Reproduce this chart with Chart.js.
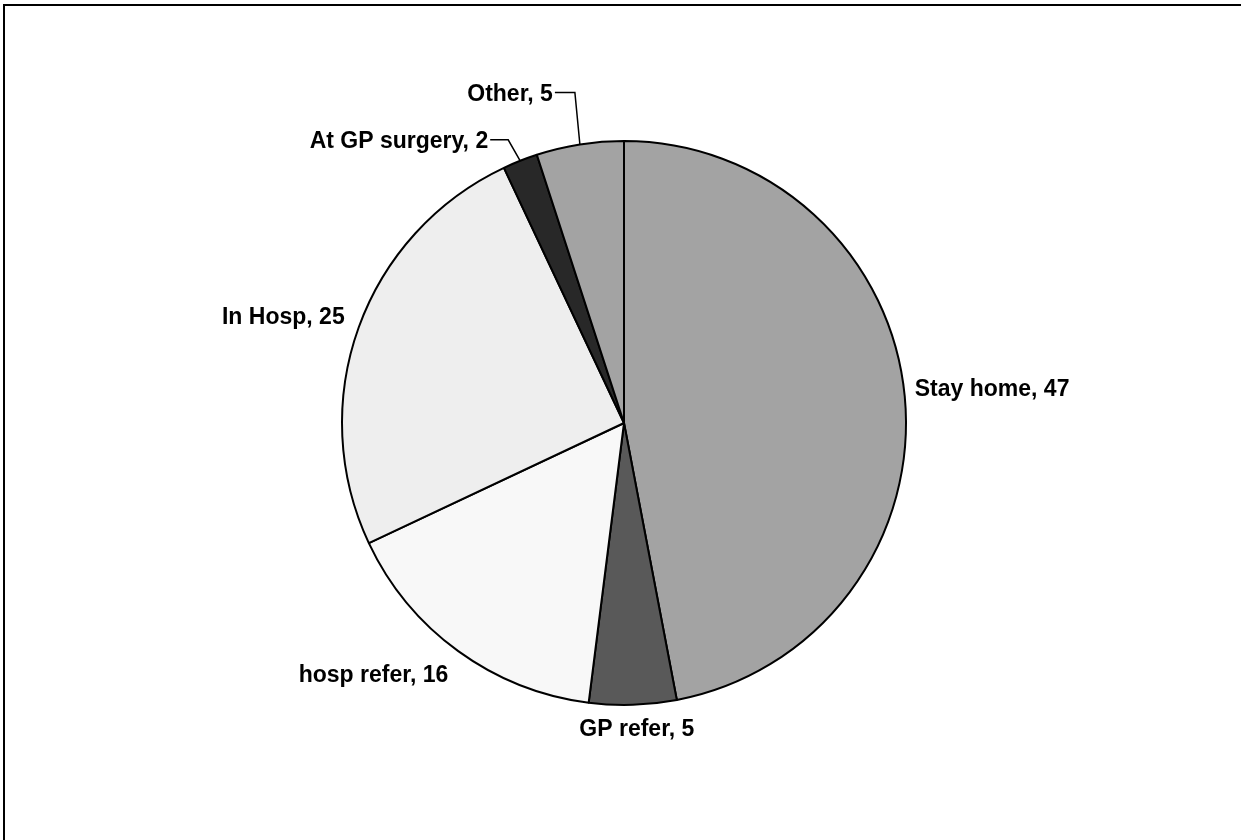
<!DOCTYPE html>
<html>
<head>
<meta charset="utf-8">
<script src="https://cdn.jsdelivr.net/npm/chart.js@4/dist/chart.umd.min.js"></script>
<style>
    html, body { margin: 0; padding: 0; background: #fff; }
    #wrap { position: relative; width: 1241px; height: 840px; overflow: hidden; }
    #frame {
        position: absolute; left: 3px; top: 4px; width: 1300px; height: 900px;
        border-top: 2px solid #000; border-left: 2px solid #000;
    }
    canvas { position: absolute; left: 0; top: 0; }
</style>
</head>
<body>
<div id="wrap">
    <div id="frame"></div>
    <canvas id="pieChart" width="1241" height="840"></canvas>
</div>
<script>
// 数据
const categories = ['Stay home', 'GP refer', 'hosp refer', 'In Hosp', 'At GP surgery', 'Other'];
const values = [47, 5, 16, 25, 2, 5];
const sliceColors = ['#a3a3a3', '#595959', '#f8f8f8', '#eeeeee', '#282828', '#a3a3a3'];

// 标签位置 (相对于扇区外缘中点的偏移), 以及引导线
const labelStyle = [
    { dx: 10, dy: -9, align: 'left' },
    { dx: 4, dy: 23, align: 'center' },
    { dx: -10, dy: 23, align: 'right' },
    { dx: -14, dy: -12, align: 'right' },
    { dx: -32, dy: -21, align: 'right', leader: [[-12, -21], [-30, -21]] },
    { dx: -27, dy: -52, align: 'right', leader: [[-5, -52], [-25, -52]] }
];

const labelPlugin = {
    id: 'sliceLabels',
    afterDatasetsDraw(chart) {
        const c = chart.ctx;
        const meta = chart.getDatasetMeta(0);
        c.save();
        c.font = 'bold 23px "Liberation Sans", Arial, sans-serif';
        c.fillStyle = '#000';
        c.strokeStyle = '#000';
        c.lineWidth = 1.5;
        c.textBaseline = 'alphabetic';
        meta.data.forEach((arc, i) => {
            const mid = (arc.startAngle + arc.endAngle) / 2;
            const ex = arc.x + arc.outerRadius * Math.cos(mid);
            const ey = arc.y + arc.outerRadius * Math.sin(mid);
            const st = labelStyle[i];
            if (st.leader) {
                c.beginPath();
                c.moveTo(ex, ey);
                st.leader.forEach(p => c.lineTo(ex + p[0], ey + p[1]));
                c.stroke();
            }
            c.textAlign = st.align;
            c.fillText(categories[i] + ', ' + values[i], ex + st.dx, ey + st.dy + 8.3);
        });
        c.restore();
    }
};

const ctx = document.getElementById('pieChart').getContext('2d');
const pieChart = new Chart(ctx, {
    type: 'pie',
    data: {
        labels: categories,
        datasets: [{
            data: values,
            backgroundColor: sliceColors,
            borderColor: '#000',
            borderWidth: 2,
            hoverOffset: 0
        }]
    },
    options: {
        responsive: false,
        animation: false,
        layout: {
            padding: { top: 140, bottom: 134, left: 300, right: 293 }
        },
        plugins: {
            legend: { display: false },
            tooltip: { enabled: false }
        }
    },
    plugins: [labelPlugin]
});
</script>
</body>
</html>
